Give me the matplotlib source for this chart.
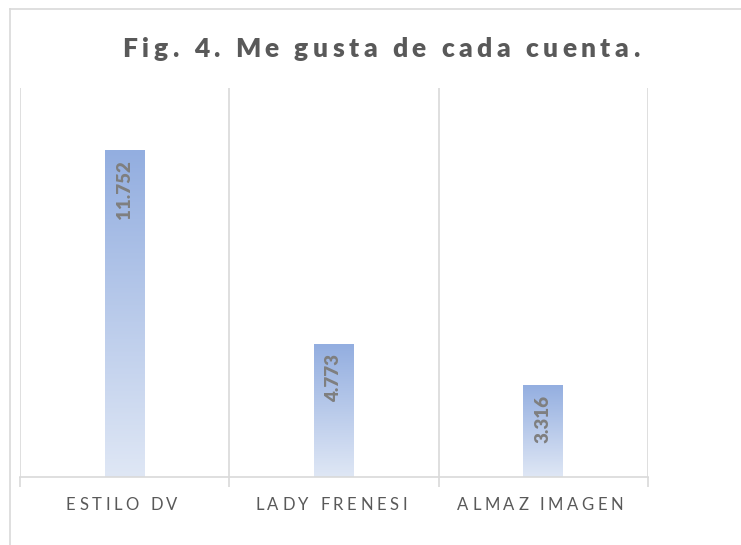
import numpy as np
import matplotlib
matplotlib.use("Agg")
import matplotlib.pyplot as plt
from matplotlib.colors import LinearSegmentedColormap

# DATA

categories = ["ESTILO DV", "LADY FRENESI", "ALMAZ IMAGEN"]
values = [11752, 4773, 3316]
value_labels = ["11.752", "4.773", "3.316"]
title = "Fig. 4. Me gusta de cada cuenta."

plt.rcParams["font.family"] = ["Lato", "DejaVu Sans"]

W, H = 741, 545
fig = plt.figure(figsize=(W / 100, H / 100), dpi=100)
fig.patch.set_facecolor("white")


def px(x, y):
    # pixel coords (top-left origin) -> figure fraction
    return x / W, 1 - y / H


def spaced_text(xc, yc, s, spacing, **kw):
    # letter-spaced text centred on (xc, yc) in pixels
    r = fig.canvas.get_renderer()

    def width(t):
        tt = fig.text(0, 0, t + "x", **kw)
        w1 = tt.get_window_extent(r).width
        tt.remove()
        tt = fig.text(0, 0, "x", **kw)
        w2 = tt.get_window_extent(r).width
        tt.remove()
        return w1 - w2

    offs = [width(s[:i]) + i * spacing for i in range(len(s))]
    total = width(s) + (len(s) - 1) * spacing
    x0 = xc - total / 2
    for ch, o in zip(s, offs):
        fx, fy = px(x0 + o, yc)
        fig.text(fx, fy, ch, ha="left", va="center", **kw)


# CHART FRAME (cropped)

border = "#D9D9D9"
fig.add_artist(plt.Line2D([10 / W, 10 / W], [0, 1 - 9 / H], color=border, lw=1.2))
fig.add_artist(plt.Line2D([10 / W, 1], [1 - 9 / H, 1 - 9 / H], color=border, lw=1.2))

# AXES

left, right, top, bottom = 20, 648, 88, 477
ax = fig.add_axes([left / W, 1 - bottom / H, (right - left) / W, (bottom - top) / H])
ax.set_xlim(-0.5, 2.5)
ax.set_ylim(0, 14000)
for sp in ["top", "right", "left"]:
    ax.spines[sp].set_visible(False)
ax.spines["bottom"].set_color(border)
ax.spines["bottom"].set_linewidth(1.2)
ax.set_yticks([])
ax.set_xticks([-0.5, 0.5, 1.5, 2.5])
ax.set_xticklabels([])
ax.tick_params(axis="x", length=7, width=1.2, color=border)
ax.grid(axis="x", color=border, lw=1.2)
ax.set_axisbelow(True)

# GRADIENT BARS

cmap = LinearSegmentedColormap.from_list("g", ["#DFE7F5", "#93AEE0"])
grad = np.linspace(0, 1, 256).reshape(-1, 1)
bars = ax.bar(range(len(values)), values, width=0.19, color="none", edgecolor="none")
for b in bars:
    x0, y0 = b.get_x(), b.get_y()
    im = ax.imshow(grad, cmap=cmap, origin="lower", aspect="auto",
                   extent=[x0, x0 + b.get_width(), y0, y0 + b.get_height()], zorder=2)
    im.set_clip_path(b)
ax.set_xlim(-0.5, 2.5)
ax.set_ylim(0, 14000)

for i, (v, lab) in enumerate(zip(values, value_labels)):
    ax.annotate(lab, (i, v), xytext=(0, -7), textcoords="offset points",
                rotation=90, ha="center", va="top", fontsize=13.5,
                fontweight="heavy", color="#7F7F7F", zorder=3)

# TEXTS

spaced_text(381, 49, title, 4.5, fontsize=19, fontweight="heavy", color="#595959")
for i, c in enumerate(categories):
    xc = left + (right - left) * (i + 0.5) / 3 - 3
    spaced_text(xc, 505, c, 3.6, fontsize=12, color="#595959")

fig.savefig("out.png", dpi=100)
